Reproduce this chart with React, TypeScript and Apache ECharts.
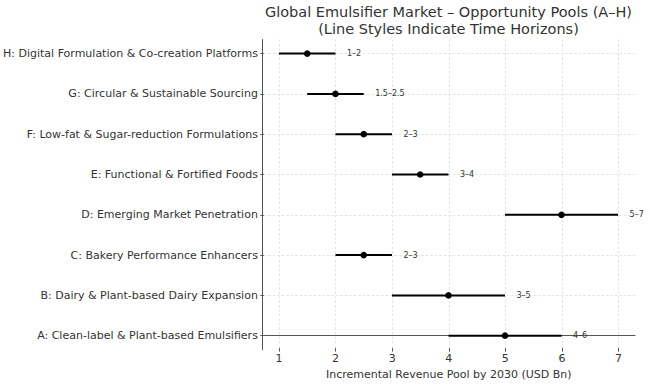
import React, { useEffect, useRef } from "react";
import * as echarts from "echarts";

const categories = [
  "A: Clean-label & Plant-based Emulsifiers",
  "B: Dairy & Plant-based Dairy Expansion",
  "C: Bakery Performance Enhancers",
  "D: Emerging Market Penetration",
  "E: Functional & Fortified Foods",
  "F: Low-fat & Sugar-reduction Formulations",
  "G: Circular & Sustainable Sourcing",
  "H: Digital Formulation & Co-creation Platforms",
];
const lows = [4, 3, 2, 5, 3, 2, 1.5, 1];
const highs = [6, 5, 3, 7, 4, 3, 2.5, 2];
const mids = [5, 4, 2.5, 6, 3.5, 2.5, 2, 1.5];
const rangeLabels = ["4–6", "3–5", "2–3", "5–7", "3–4", "2–3", "1.5–2.5", "1–2"];

const titleLines = [
  "Global Emulsifier Market – Opportunity Pools (A–H)",
  "(Line Styles Indicate Time Horizons)",
];
const xAxisName = "Incremental Revenue Pool by 2030 (USD Bn)";

const FONT = "DejaVu Sans";
const TEXT = "#333";
const SPINE = "#555";
const GRID_LINE = { color: "#dcdcdc", width: 0.8, type: [2.5, 2] as any };

export default function App() {
  const ref = useRef<HTMLDivElement>(null);
  useEffect(() => {
    if (!ref.current) return;
    const chart = echarts.init(ref.current, undefined, { renderer: "svg" });
    const data = categories.map((_, i) => [lows[i], i, highs[i], mids[i]]);
    chart.setOption({
      animation: false,
      textStyle: { fontFamily: FONT },
      graphic: [
        {
          type: "text",
          x: 448.5,
          y: 4,
          style: {
            text: titleLines.join("\n"),
            textAlign: "center",
            textVerticalAlign: "top",
            fontFamily: FONT,
            fontSize: 14.5,
            lineHeight: 16.5,
            fill: TEXT,
          },
        },
      ],
      grid: [
        { left: 279, right: 31.5, top: 39.5, bottom: 35.2, containLabel: false },
        { left: 262, right: 15, top: 53.5, bottom: 49.3, containLabel: false },
        { left: 262, right: 15, top: 39.5, bottom: 35.2, containLabel: false },
      ],
      xAxis: [
        {
          gridIndex: 0,
          type: "value",
          min: 1,
          max: 7,
          interval: 1,
          axisLine: { show: false },
          axisTick: { show: true, length: 3.5, lineStyle: { color: SPINE } },
          axisLabel: { color: TEXT, fontSize: 11, fontFamily: FONT, margin: 5 },
          splitLine: { show: true, lineStyle: GRID_LINE },
          name: xAxisName,
          nameLocation: "middle",
          nameGap: 17,
          nameTextStyle: { color: TEXT, fontSize: 11, fontFamily: FONT },
        },
        { gridIndex: 1, type: "value", min: 0, max: 1, show: false },
        {
          gridIndex: 2,
          type: "value",
          min: 0.7,
          max: 7.3,
          axisLine: { show: true, lineStyle: { color: SPINE, width: 1 } },
          axisTick: { show: false },
          axisLabel: { show: false },
          splitLine: { show: false },
        },
      ],
      yAxis: [
        { gridIndex: 0, type: "value", min: 0, max: 1, show: false },
        {
          gridIndex: 1,
          type: "category",
          data: categories,
          boundaryGap: false,
          axisLine: { show: false },
          axisTick: { show: true, length: 3.5, lineStyle: { color: SPINE } },
          axisLabel: { color: TEXT, fontSize: 11, fontFamily: FONT, margin: 6, interval: 0 },
          splitLine: { show: true, interval: 0, lineStyle: GRID_LINE },
        },
        {
          gridIndex: 2,
          type: "value",
          min: -0.35,
          max: 7.35,
          axisLine: { show: true, lineStyle: { color: SPINE, width: 1 } },
          axisTick: { show: false },
          axisLabel: { show: false },
          splitLine: { show: false },
        },
      ],
      series: [
        {
          type: "custom",
          xAxisIndex: 2,
          yAxisIndex: 2,
          data,
          encode: { x: [0, 2, 3], y: 1 },
          renderItem: (params: any, api: any) => {
            const lo = api.value(0);
            const y = api.value(1);
            const hi = api.value(2);
            const mid = api.value(3);
            const p1 = api.coord([lo, y]);
            const p2 = api.coord([hi, y]);
            const pm = api.coord([mid, y]);
            return {
              type: "group",
              children: [
                {
                  type: "line",
                  shape: { x1: p1[0], y1: p1[1], x2: p2[0], y2: p2[1] },
                  style: { stroke: "#000", lineWidth: 2 },
                },
                {
                  type: "circle",
                  shape: { cx: pm[0], cy: pm[1], r: 3.3 },
                  style: { fill: "#000" },
                },
                {
                  type: "text",
                  x: p2[0] + 11.5,
                  y: p2[1],
                  style: {
                    text: rangeLabels[params.dataIndex],
                    textAlign: "left",
                    textVerticalAlign: "middle",
                    fontFamily: FONT,
                    fontSize: 8,
                    fill: TEXT,
                  },
                },
              ],
            };
          },
        },
      ],
    });
    return () => chart.dispose();
  }, []);
  return (
    <div
      ref={ref}
      style={{ position: "fixed", left: 0, top: 0, width: 650, height: 385, background: "#fff" }}
    />
  );
}
